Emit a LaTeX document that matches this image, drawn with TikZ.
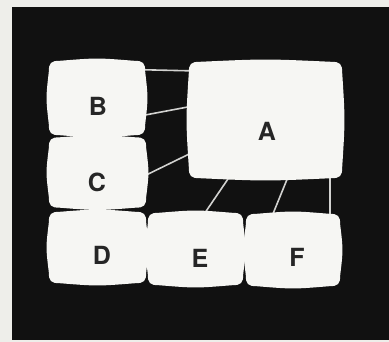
\documentclass[tikz,border=0pt]{standalone}
\usepackage{fontspec}
\setmainfont{TeX Gyre Heros}
\usetikzlibrary{calc}
\pgfdeclarelayer{backdrop}
\pgfdeclarelayer{wires}
\pgfdeclarelayer{screens}
\pgfsetlayers{backdrop,wires,screens,main}
\definecolor{paper}{HTML}{EEEEEA}
\definecolor{dark}{HTML}{111111}
\definecolor{scr}{HTML}{F6F6F3}
\definecolor{ink}{HTML}{262626}
\definecolor{wire}{HTML}{D2D2D0}
\tikzset{
  tv/.style n args={2}{rectangle, inner sep=0pt, draw=none,
    minimum width=#1pt, minimum height=#2pt},
  lbl/.style={inner sep=0pt, text=ink, font=\fontsize{25}{25}\selectfont\bfseries},
  wirestyle/.style={draw=wire, line width=1.6pt, shorten <=-3pt, shorten >=-3pt}
}
\newcommand{\tvshape}[1]{%
  \fill[scr]
    ($(#1.north west)+(11pt,0)$)
      .. controls ($(#1.north)+(0,3pt)$) .. ($(#1.north east)+(-11pt,0)$)
      .. controls ($(#1.north east)+(-2pt,0)$) and ($(#1.north east)+(0,-2pt)$) .. ($(#1.north east)+(0,-11pt)$)
      .. controls ($(#1.east)+(3pt,0)$) .. ($(#1.south east)+(0,11pt)$)
      .. controls ($(#1.south east)+(0,2pt)$) and ($(#1.south east)+(-2pt,0)$) .. ($(#1.south east)+(-11pt,0)$)
      .. controls ($(#1.south)+(0,-3pt)$) .. ($(#1.south west)+(11pt,0)$)
      .. controls ($(#1.south west)+(2pt,0)$) and ($(#1.south west)+(0,2pt)$) .. ($(#1.south west)+(0,11pt)$)
      .. controls ($(#1.west)+(-3pt,0)$) .. ($(#1.north west)+(0,-11pt)$)
      .. controls ($(#1.north west)+(0,-2pt)$) and ($(#1.north west)+(2pt,0)$) .. cycle;}
\begin{document}
\begin{tikzpicture}[x=1pt,y=-1pt]
\useasboundingbox (0,0) rectangle (389,342);
\begin{pgfonlayer}{backdrop}
  \fill[paper] (0,0) rectangle (389,342);
  \fill[dark] (12,7) rectangle (389,340);
\end{pgfonlayer}
% screens (named nodes)
\node[tv={96}{74}] (B) at (97,98) {};
\node[tv={97}{70}] (C) at (97.5,172.5) {};
\node[tv={97}{71}] (D) at (97.5,247.5) {};
\node[tv={95}{72}] (E) at (195.5,249) {};
\node[tv={94}{72}] (F) at (293,250) {};
\node[tv={153}{116}] (A) at (265.5,120) {};
\begin{pgfonlayer}{screens}
  \foreach \n in {A,B,C,D,E,F} {\tvshape{\n}}
\end{pgfonlayer}
% labels
\node[lbl] (lA) at (267,131) {A};
\node[lbl] (lB) at (98,106) {B};
\node[lbl] (lC) at (97,182) {C};
\node[lbl] (lD) at (102,255) {D};
\node[lbl] (lE) at (200,258) {E};
\node[lbl] (lF) at (297,257) {F};
% connectors
\begin{pgfonlayer}{wires}
  \draw[wirestyle] ($(B.north east)+(0,-9pt)$) -- ($(A.north west)+(0,-9pt)$);
  \draw[wirestyle] ($(B.east)+(0,-17pt)$) -- ($(A.north west)+(0,-45pt)$);
  \draw[wirestyle] ($(C.east)+(0,-2.5pt)$) -- ($(A.south west)+(0,24pt)$);
  \draw[wirestyle] ($(E.north)+(9.5pt,0)$) -- ($(A.south)+(-37pt,0)$);
  \draw[wirestyle] ($(F.north)+(-20pt,0)$) -- ($(A.south)+(22pt,0)$);
  \draw[wirestyle] ($(F.north east)+(-10pt,0)$) -- ($(A.south east)+(-12pt,0)$);
\end{pgfonlayer}
\end{tikzpicture}
\end{document}
